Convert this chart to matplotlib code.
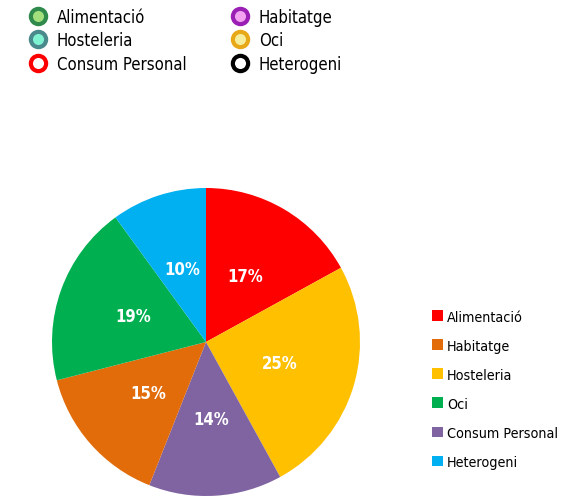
import matplotlib
matplotlib.use("Agg")
import matplotlib.pyplot as plt
from matplotlib.lines import Line2D
from matplotlib.patches import Patch

# Slices in drawing order (clockwise from 12 o'clock)
slice_labels = ["Alimentació", "Hosteleria", "Consum Personal", "Habitatge", "Oci", "Heterogeni"]
slice_values = [17, 25, 14, 15, 19, 10]
slice_colors = ["#FF0000", "#FFC000", "#8064A2", "#E36C0A", "#00B050", "#00B0F0"]

# Legend beside the pie
legend_order = ["Alimentació", "Habitatge", "Hosteleria", "Oci", "Consum Personal", "Heterogeni"]

# Marker key at the top
key_labels = ["Alimentació", "Hosteleria", "Consum Personal", "Habitatge", "Oci", "Heterogeni"]
key_faces = ["#A3E07D", "#7FF2D2", "#FFFFFF", "#F2A2F0", "#F5EE9C", "#FFFFFF"]
key_edges = ["#2F8A4C", "#4B8A8C", "#FF0000", "#9A1FB4", "#E8A818", "#000000"]

cond = dict(family="DejaVu Sans", stretch="condensed")

fig = plt.figure(figsize=(5.65, 5.02), dpi=100)
ax = fig.add_axes([52 / 565, 5 / 502, 308 / 565, 308 / 502])

wedges, texts, autotexts = ax.pie(
    slice_values, colors=slice_colors, startangle=90, counterclock=False,
    autopct="%d%%", pctdistance=0.5, radius=1.0,
    textprops=dict(color="white", size=12, weight="bold", **cond),
)
ax.set_xlim(-1, 1)
ax.set_ylim(-1, 1)
ax.set_aspect("equal")
ax.axis("off")

color_of = dict(zip(slice_labels, slice_colors))
handles = [Patch(facecolor=color_of[n], edgecolor="none") for n in legend_order]
fig.legend(handles, legend_order, loc="upper left", bbox_to_anchor=(419 / 565, 1 - 298 / 502),
           frameon=False, handlelength=0.8, handleheight=0.8, handletextpad=0.25,
           labelspacing=1.05, prop=dict(size=10.3, **cond))

key_handles = [Line2D([], [], linestyle="none", marker="o", markersize=11,
                      markerfacecolor=fc, markeredgecolor=ec, markeredgewidth=3)
               for fc, ec in zip(key_faces, key_edges)]
fig.legend(key_handles, key_labels, loc="upper left", bbox_to_anchor=(15 / 565, 1 + 6 / 502),
           ncol=2, frameon=False, handlelength=1.0, handletextpad=0.6,
           labelspacing=0.32, columnspacing=2.75, prop=dict(size=12, **cond))

fig.savefig("out.png", dpi=100)
